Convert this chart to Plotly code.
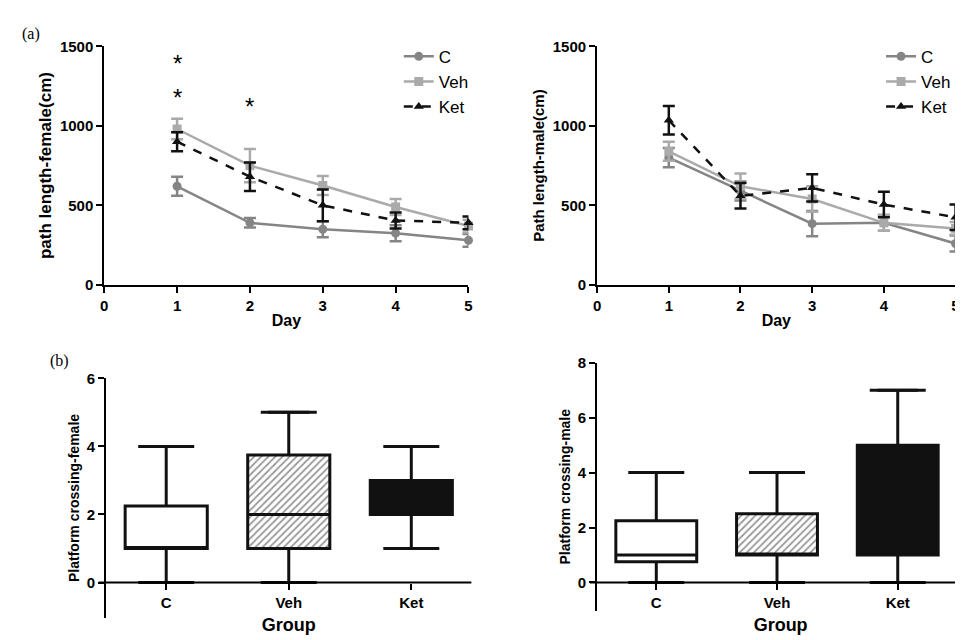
import plotly.graph_objects as go

days = [1, 2, 3, 4, 5]

# path length, female
f_c = [620, 390, 350, 325, 280]
f_c_err = [60, 30, 50, 50, 40]
f_veh = [980, 750, 625, 490, 370]
f_veh_err = [65, 105, 60, 50, 40]
f_ket = [900, 680, 500, 405, 390]
f_ket_err = [60, 90, 100, 50, 40]

# path length, male
m_c = [800, 590, 385, 390, 260]
m_c_err = [60, 60, 80, 50, 50]
m_veh = [840, 620, 540, 390, 355]
m_veh_err = [60, 80, 80, 50, 40]
m_ket = [1035, 560, 610, 505, 425]
m_ket_err = [90, 80, 85, 80, 80]

groups = ["C", "Veh", "Ket"]
# platform crossing boxes: min, q1, median, q3, max
f_min = [0, 0, 1]
f_q1 = [1, 1, 2]
f_med = [1, 2, 2]
f_q3 = [2.25, 3.75, 3]
f_max = [4, 5, 4]

m_min = [0, 0, 0]
m_q1 = [0.75, 1, 1]
m_med = [1, 1, 1]
m_q3 = [2.25, 2.5, 5]
m_max = [4, 4, 7]

C_COL = "#858585"
V_COL = "#aaaaaa"
K_COL = "#111111"
FONT = "Liberation Sans"

fig = go.Figure()

def add_lines(xa, ya, data, legend):
    specs = [("C", C_COL, "circle", "solid"), ("Veh", V_COL, "square", "solid"),
             ("Ket", K_COL, "triangle-up", "dash")]
    for (name, col, sym, dash), (y, e) in zip(specs, data):
        fig.add_trace(go.Scatter(
            x=days, y=y, name=name, xaxis=xa, yaxis=ya, legend=legend,
            mode="lines+markers", cliponaxis=False,
            line=dict(color=col, width=2.5, dash=dash),
            marker=dict(symbol=sym, size=9, color=col),
            error_y=dict(type="data", array=e, color=col, thickness=2.5, width=6)))

add_lines("x", "y", [(f_c, f_c_err), (f_veh, f_veh_err), (f_ket, f_ket_err)], "legend")
add_lines("x2", "y2", [(m_c, m_c_err), (m_veh, m_veh_err), (m_ket, m_ket_err)], "legend2")

def add_boxes(xa, ya, mn, q1, md, q3, mx):
    fills = ["white", "rgba(0,0,0,0)", K_COL]
    # hatched fill for Veh
    fig.add_trace(go.Bar(x=[groups[1]], y=[q3[1] - q1[1]], base=[q1[1]], width=0.67,
                         xaxis=xa, yaxis=ya, showlegend=False,
                         marker=dict(color="white", line=dict(width=0),
                                     pattern=dict(shape="/", fgcolor="#333", size=5, solidity=0.35))))
    for i, g in enumerate(groups):
        fig.add_trace(go.Box(x=[g], q1=[q1[i]], median=[md[i]], q3=[q3[i]],
                             lowerfence=[mn[i]], upperfence=[mx[i]],
                             xaxis=xa, yaxis=ya, showlegend=False, width=0.67,
                             fillcolor=fills[i], line=dict(color=K_COL, width=3)))
    fig.add_trace(go.Scatter(x=groups + groups, y=mn + mx, mode="markers",
                             xaxis=xa, yaxis=ya, showlegend=False, cliponaxis=False,
                             marker=dict(symbol="line-ew-open", size=40, color=K_COL,
                                         line=dict(color=K_COL, width=3))))

add_boxes("x3", "y3", f_min, f_q1, f_med, f_q3, f_max)
add_boxes("x4", "y4", m_min, m_q1, m_med, m_q3, m_max)

ax = dict(showline=True, linecolor="black", linewidth=2, ticks="outside", ticklen=6,
          tickwidth=2, tickcolor="black", showgrid=False, zeroline=False,
          tickfont=dict(family=FONT, size=15, color="black", weight="bold"))
tf = dict(family=FONT, size=16, color="black", weight="bold")

fig.update_layout(
    width=963, height=640, margin=dict(l=0, r=0, t=0, b=0),
    plot_bgcolor="white", paper_bgcolor="white",
    font=dict(family=FONT, color="black"),
    bargap=0, barmode="overlay",
    xaxis=dict(ax, domain=[0.0966, 0.478], range=[0, 5], dtick=1, anchor="y",
               title=dict(text="Day", font=tf, standoff=2)),
    yaxis=dict(ax, domain=[0.570, 0.953], range=[0, 1500], dtick=500, anchor="x",
               title=dict(text="path length-female(cm)", font=dict(tf, size=17), standoff=4)),
    xaxis2=dict(ax, domain=[0.6127, 0.988], range=[0, 5], dtick=1, anchor="y2",
                title=dict(text="Day", font=tf, standoff=2)),
    yaxis2=dict(ax, domain=[0.570, 0.953], range=[0, 1500], dtick=500, anchor="x2",
                title=dict(text="Path length-male(cm)", font=dict(tf, size=15), standoff=4)),
    xaxis3=dict(ax, domain=[0.0986, 0.481], range=[-0.49, 2.49], anchor="free", position=0.092,
                showline=False, type="category", categoryorder="array", categoryarray=groups,
                title=dict(text="Group", font=dict(tf, size=18), standoff=8)),
    yaxis3=dict(ax, domain=[0.036, 0.42], range=[-1.03, 6], tickvals=[0, 2, 4, 6], anchor="x3",
                title=dict(text="Platform crossing-female", font=dict(tf, size=14), standoff=4)),
    xaxis4=dict(ax, domain=[0.6127, 0.997], range=[-0.49, 2.55], anchor="free", position=0.092,
                showline=False, type="category", categoryorder="array", categoryarray=groups,
                title=dict(text="Group", font=dict(tf, size=18), standoff=8)),
    yaxis4=dict(ax, domain=[0.047, 0.445], range=[-1.03, 8], tickvals=[0, 2, 4, 6, 8], anchor="x4",
                title=dict(text="Platform crossing-male", font=dict(tf, size=14), standoff=4)),
    legend=dict(x=0.405, y=0.965, xanchor="left", yanchor="top", bgcolor="rgba(0,0,0,0)",
                font=dict(family=FONT, size=17), tracegroupgap=0, itemwidth=30),
    legend2=dict(x=0.91, y=0.965, xanchor="left", yanchor="top", bgcolor="rgba(0,0,0,0)",
                 font=dict(family=FONT, size=17), tracegroupgap=0, itemwidth=30),
    shapes=[
        dict(type="line", xref="x3 domain", yref="y3", x0=-0.02, x1=1, y0=0, y1=0,
             line=dict(color="black", width=2)),
        dict(type="line", xref="x4 domain", yref="y4", x0=-0.02, x1=1, y0=0, y1=0,
             line=dict(color="black", width=2)),
    ],
    annotations=[
        dict(text="(a)", x=0.008, y=0.99, xref="paper", yref="paper", showarrow=False,
             xanchor="left", yanchor="top", font=dict(family="Liberation Serif", size=16)),
        dict(text="(b)", x=0.038, y=0.465, xref="paper", yref="paper", showarrow=False,
             xanchor="left", yanchor="top", font=dict(family="Liberation Serif", size=16)),
        dict(text="*", x=1, y=1390, xref="x", yref="y", showarrow=False, font=dict(size=24)),
        dict(text="*", x=1, y=1180, xref="x", yref="y", showarrow=False, font=dict(size=24)),
        dict(text="*", x=2, y=1120, xref="x", yref="y", showarrow=False, font=dict(size=24)),
    ],
)

fig.write_html("out.html")
